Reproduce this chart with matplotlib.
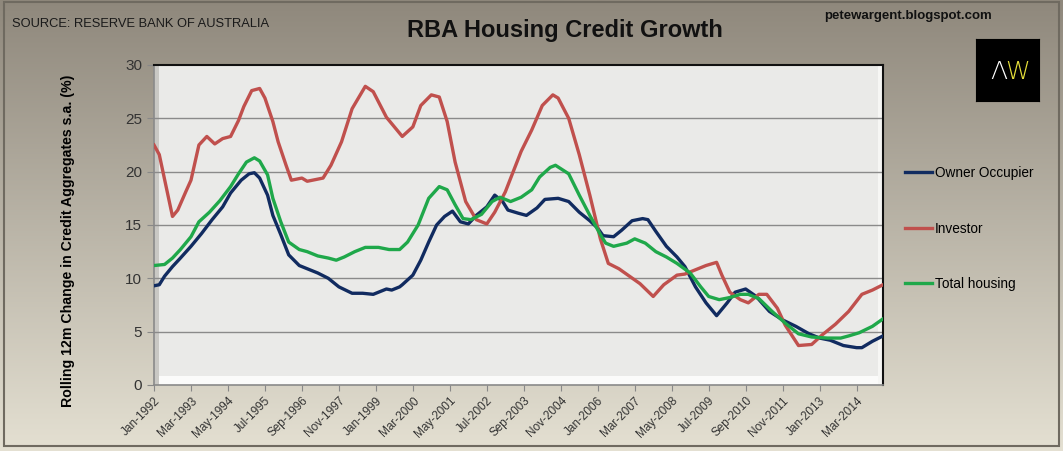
import numpy as np
import matplotlib.pyplot as plt
from matplotlib.patches import Rectangle

plt.rcParams['font.family'] = ['Liberation Sans', 'DejaVu Sans']

# months since Jan-1992 (% y/y)
owner_m = [0, 2, 4, 7, 10, 14, 18, 22, 26, 29, 33, 36, 38, 40, 43, 45, 48, 51, 55, 58, 62, 66, 70,
           75, 79, 83, 88, 90, 93, 94, 98, 101, 104, 107, 110, 113, 116, 119, 122, 126, 129, 132, 134,
           138, 141, 145, 148, 153, 157, 161, 165, 168, 170, 174, 177, 181, 185, 187, 190, 194, 198,
           201, 205, 209, 213, 217, 220, 224, 228, 233, 238, 243, 248, 252, 256, 261, 266, 268, 272, 276]
owner_v = [9.3, 9.4, 10.2, 11.1, 11.9, 13.0, 14.2, 15.5, 16.7, 18.0, 19.2, 19.8, 19.9, 19.4, 17.8,
           15.9, 14.1, 12.2, 11.2, 10.9, 10.5, 10.0, 9.2, 8.6, 8.6, 8.5, 9.0, 8.9, 9.2, 9.4, 10.3,
           11.7, 13.4, 15.0, 15.8, 16.3, 15.3, 15.1, 15.9, 16.7, 17.8, 17.2, 16.4, 16.1, 15.9, 16.6,
           17.4, 17.5, 17.2, 16.2, 15.4, 14.7, 14.0, 13.9, 14.5, 15.4, 15.6, 15.5, 14.4, 13.0, 12.0,
           11.1, 9.2, 7.7, 6.5, 7.7, 8.7, 9.0, 8.3, 6.9, 6.1, 5.5, 4.8, 4.4, 4.2, 3.7, 3.5, 3.5, 4.1, 4.6]

investor_m = [0, 2, 7, 9, 12, 14, 17, 20, 23, 26, 29, 32, 34, 37, 40, 42, 45, 47, 50, 52, 56, 58,
              64, 67, 71, 75, 80, 83, 88, 94, 98, 101, 105, 108, 111, 114, 118, 122, 126, 129, 133,
              136, 139, 143, 147, 151, 153, 157, 161, 165, 169, 172, 176, 180, 184, 189, 193, 198,
              201, 205, 209, 213, 215, 218, 222, 225, 229, 232, 236, 239, 244, 249, 253, 258, 263,
              268, 272, 276]
investor_v = [22.5, 21.6, 15.8, 16.4, 18.1, 19.2, 22.5, 23.3, 22.6, 23.1, 23.3, 24.8, 26.1, 27.6,
              27.8, 26.9, 24.7, 22.8, 20.6, 19.2, 19.4, 19.1, 19.4, 20.6, 22.8, 25.9, 28.0, 27.5,
              25.1, 23.3, 24.2, 26.2, 27.2, 27.0, 24.7, 20.9, 17.2, 15.5, 15.1, 16.2, 18.1, 20.0,
              21.9, 23.9, 26.2, 27.2, 26.9, 25.0, 21.6, 17.8, 13.7, 11.4, 10.9, 10.2, 9.5, 8.3, 9.4,
              10.3, 10.4, 10.8, 11.2, 11.5, 10.3, 8.7, 8.0, 7.7, 8.5, 8.5, 7.2, 5.6, 3.7, 3.8, 4.7,
              5.7, 6.9, 8.5, 8.9, 9.4]

total_m = [0, 4, 7, 10, 14, 17, 21, 25, 29, 32, 35, 38, 40, 43, 45, 48, 51, 55, 58, 62, 66, 69, 72,
           76, 80, 85, 89, 93, 96, 100, 104, 108, 111, 114, 117, 120, 124, 128, 131, 135, 139, 143,
           146, 150, 152, 157, 161, 165, 169, 171, 174, 179, 182, 186, 190, 194, 198, 203, 207, 210,
           214, 218, 222, 225, 229, 234, 239, 244, 249, 255, 260, 263, 267, 272, 276]
total_v = [11.2, 11.3, 11.9, 12.7, 13.9, 15.3, 16.2, 17.3, 18.6, 19.8, 20.9, 21.3, 21.0, 19.7, 17.5,
           15.3, 13.4, 12.7, 12.5, 12.1, 11.9, 11.7, 12.0, 12.5, 12.9, 12.9, 12.7, 12.7, 13.4, 15.0,
           17.5, 18.6, 18.3, 16.9, 15.6, 15.5, 16.0, 17.2, 17.6, 17.2, 17.6, 18.3, 19.5, 20.4, 20.6,
           19.8, 17.8, 15.9, 14.1, 13.3, 13.0, 13.3, 13.7, 13.3, 12.5, 12.0, 11.4, 10.5, 9.2, 8.3,
           8.0, 8.2, 8.5, 8.5, 8.1, 6.9, 5.8, 4.8, 4.5, 4.4, 4.4, 4.6, 4.9, 5.5, 6.2]

tick_labels = ['Jan-1992', 'Mar-1993', 'May-1994', 'Jul-1995', 'Sep-1996', 'Nov-1997', 'Jan-1999',
               'Mar-2000', 'May-2001', 'Jul-2002', 'Sep-2003', 'Nov-2004', 'Jan-2006', 'Mar-2007',
               'May-2008', 'Jul-2009', 'Sep-2010', 'Nov-2011', 'Jan-2013', 'Mar-2014']
tick_pos = np.arange(len(tick_labels)) * 14

fig = plt.figure(figsize=(10.63, 4.51), dpi=100)

# gradient background of the whole chart
bg = fig.add_axes([0, 0, 1, 1], zorder=-10)
grad = np.linspace(0, 1, 256).reshape(-1, 1)
top = np.array([143, 136, 124]) / 255
bot = np.array([228, 224, 210]) / 255
img = top + (bot - top) * grad[:, :, None]
bg.imshow(img, aspect='auto', extent=[0, 1, 0, 1], origin='upper')
bg.add_patch(Rectangle((0.004, 0.01), 0.992, 0.985, fill=False, ec='#6f6a60', lw=1.5))
bg.set_xlim(0, 1)
bg.set_ylim(0, 1)
bg.axis('off')

ax = fig.add_axes([154 / 1063, 1 - 385 / 451, (883 - 154) / 1063, (385 - 65) / 451])
ax.set_facecolor('#eaeae8')
# bevel edges of the plot area
ax.add_patch(Rectangle((0, 0), 1, 0.028, transform=ax.transAxes, fc='#fbfbfa', ec='none', zorder=0))
ax.add_patch(Rectangle((0, 0), 0.007, 1, transform=ax.transAxes, fc='#c9c8c4', ec='none', zorder=0))
ax.add_patch(Rectangle((0.993, 0), 0.007, 1, transform=ax.transAxes, fc='#f6f6f4', ec='none', zorder=0))

for v in [5, 10, 15, 20, 25]:
    ax.axhline(v, color='#8a8a8a', lw=1.0, zorder=1)

l1, = ax.plot(owner_m, owner_v, color='#112b60', lw=2.4, label='Owner Occupier', zorder=3)
l2, = ax.plot(investor_m, investor_v, color='#c0504d', lw=2.4, label='Investor', zorder=3)
l3, = ax.plot(total_m, total_v, color='#1fa84a', lw=2.4, label='Total housing', zorder=3)

ax.set_xlim(0, 276)
ax.set_ylim(0, 30)
ax.set_yticks(range(0, 31, 5))
ax.set_xticks(tick_pos)
ax.set_xticklabels(tick_labels, rotation=45, ha='right', rotation_mode='anchor', fontsize=8.5,
                   color='#333333')
ax.tick_params(axis='y', labelsize=11, colors='#333333', length=5, color='#888888')
ax.tick_params(axis='x', length=4, color='#888888', pad=3)
for s in ['left', 'bottom']:
    ax.spines[s].set_color('#8a8a8a')
    ax.spines[s].set_linewidth(1.2)
for s in ['top', 'right']:
    ax.spines[s].set_color('#111111')
    ax.spines[s].set_linewidth(1.5)

ax.set_ylabel('Rolling 12m Change in Credit Aggregates s.a. (%)', fontsize=10.2, fontweight='bold')
ax.yaxis.set_label_coords(-0.109, 0.45)

# legend spaced out like the Excel one
leg = fig.legend(handles=[l1, l2, l3], loc='upper left', bbox_to_anchor=(905 / 1063, 1 - 166 / 451),
                 frameon=False, fontsize=9.8, handlelength=2.0, handletextpad=0.2,
                 labelspacing=3.05, borderpad=0, borderaxespad=0)

fig.text(12 / 1063, 1 - 24 / 451, 'SOURCE: RESERVE BANK OF AUSTRALIA', fontsize=9.3,
         va='center', ha='left', color='#1a1a1a')
fig.text(565 / 1063, 1 - 30 / 451, 'RBA Housing Credit Growth', fontsize=17, fontweight='bold',
         va='center', ha='center', color='#111111')
fig.text(908 / 1063, 1 - 16 / 451, 'petewargent.blogspot.com', fontsize=9.5, fontweight='bold',
         va='center', ha='center', color='#111111')

logo = fig.add_axes([976 / 1063, 1 - 101 / 451, 63 / 1063, 62 / 451])
logo.set_facecolor('black')
logo.set_xticks([])
logo.set_yticks([])
logo.text(0.36, 0.47, 'Λ', color='white', fontsize=18, ha='center', va='center',
          family='DejaVu Sans', fontweight='light')
logo.text(0.66, 0.47, 'W', color='#e6df3a', fontsize=18, ha='center', va='center',
          family='DejaVu Sans', fontweight='light')

fig.savefig('out.png', dpi=100)
